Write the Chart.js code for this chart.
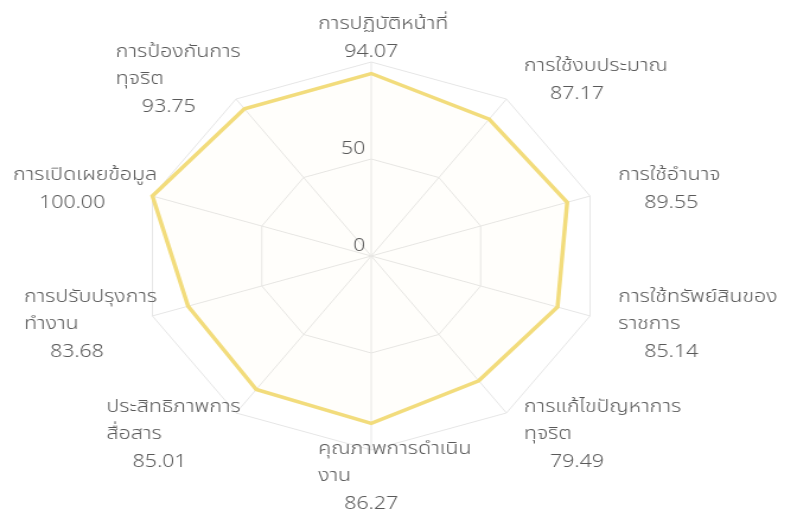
<!DOCTYPE html>
<html>
<head>
<meta charset="utf-8">
<script src="https://cdn.jsdelivr.net/npm/chart.js@4"></script>
<style>
    html, body { margin: 0; padding: 0; background: #fff; overflow: hidden; }
    /* the reference is stretched sideways, so the chart is drawn narrow and scaled out */
    #wrap { width: 664px; height: 511px; transform: scaleX(1.186); transform-origin: 0 0; }
</style>
</head>
<body>
<div id="wrap"><canvas id="radar"></canvas></div>
<script>
const categories = [
    ['การปฏิบัติหน้าที่'],
    ['การใช้งบประมาณ'],
    ['การใช้อำนาจ'],
    ['การใช้ทรัพย์สินของ', 'ราชการ'],
    ['การแก้ไขปัญหาการ', 'ทุจริต'],
    ['คุณภาพการดำเนิน', 'งาน'],
    ['ประสิทธิภาพการ', 'สื่อสาร'],
    ['การปรับปรุงการ', 'ทำงาน'],
    ['การเปิดเผยข้อมูล'],
    ['การป้องกันการ', 'ทุจริต']
];
const scores = [94.07, 87.17, 89.55, 85.14, 79.49, 86.27, 85.01, 83.68, 100.00, 93.75];
const tickValues = [0, 50];

const FONT = "'Noto Sans Thai', 'Noto Sans Thai UI', Garuda, Loma, 'Noto Sans', sans-serif";
const textColor = '#595959';

// labels and the two tick numbers are drawn by hand so they can sit like the original
const labelPlugin = {
    id: 'labelPlugin',
    afterDraw(chart) {
        const scale = chart.scales.r;
        const ctx = chart.ctx;
        ctx.save();
        ctx.fillStyle = textColor;

        // tick numbers, up-left of the vertical axis
        ctx.font = '300 18px ' + FONT;
        ctx.textAlign = 'right';
        ctx.textBaseline = 'alphabetic';
        tickValues.forEach(v => {
            const r = scale.getDistanceFromCenterForValue(v);
            ctx.fillText(String(v), scale.xCenter - 5, scale.yCenter - r - 5);
        });

        // point labels: name lines, then the score a bit indented
        const lineH = 27;
        const indent = 22;
        ctx.textAlign = 'left';
        categories.forEach((lines, i) => {
            const valText = scores[i].toFixed(2);
            const n = lines.length + 1;
            const blockH = n * lineH;
            const angle = i * 2 * Math.PI / categories.length;
            const sin = Math.sin(angle);
            const pos = scale.getPointPosition(i, scale.drawingArea + 25);
            const vtx = scale.getPointPosition(i, scale.drawingArea);
            const nameW = Math.max(...lines.map(t => ctx.measureText(t).width));
            const valW = ctx.measureText(valText).width;
            const blockW = Math.max(nameW, valW + indent);
            let left;
            if (Math.abs(sin) < 0.1) {
                left = pos.x - indent - valW / 2;
            } else if (sin > 0) {
                left = pos.x;
            } else {
                left = vtx.x + 4 - blockW;
            }
            const top = pos.y - blockH / 2;
            lines.forEach((t, k) => {
                ctx.fillText(t, left, top + (k + 1) * lineH - 8);
            });
            ctx.fillText(valText, left + indent, top + n * lineH - 7);
        });
        ctx.restore();
    }
};

const ctx = document.getElementById('radar').getContext('2d');
new Chart(ctx, {
    type: 'radar',
    data: {
        labels: categories,
        datasets: [{
            data: scores,
            borderColor: '#f2dc7c',
            backgroundColor: 'rgba(250, 232, 150, 0.04)',
            borderWidth: 3.5,
            pointRadius: 0,
            fill: true
        }]
    },
    options: {
        responsive: true,
        maintainAspectRatio: false,
        animation: false,
        layout: { padding: { left: 119, right: 157, top: 62, bottom: 61 } },
        plugins: {
            legend: { display: false },
            tooltip: { enabled: false }
        },
        scales: {
            r: {
                min: 0,
                max: 100,
                ticks: { display: false, stepSize: 50 },
                grid: { color: '#e6e6e6', lineWidth: 1 },
                angleLines: { color: '#e6e6e6', lineWidth: 1 },
                pointLabels: { display: false }
            }
        }
    },
    plugins: [labelPlugin]
});
</script>
</body>
</html>
